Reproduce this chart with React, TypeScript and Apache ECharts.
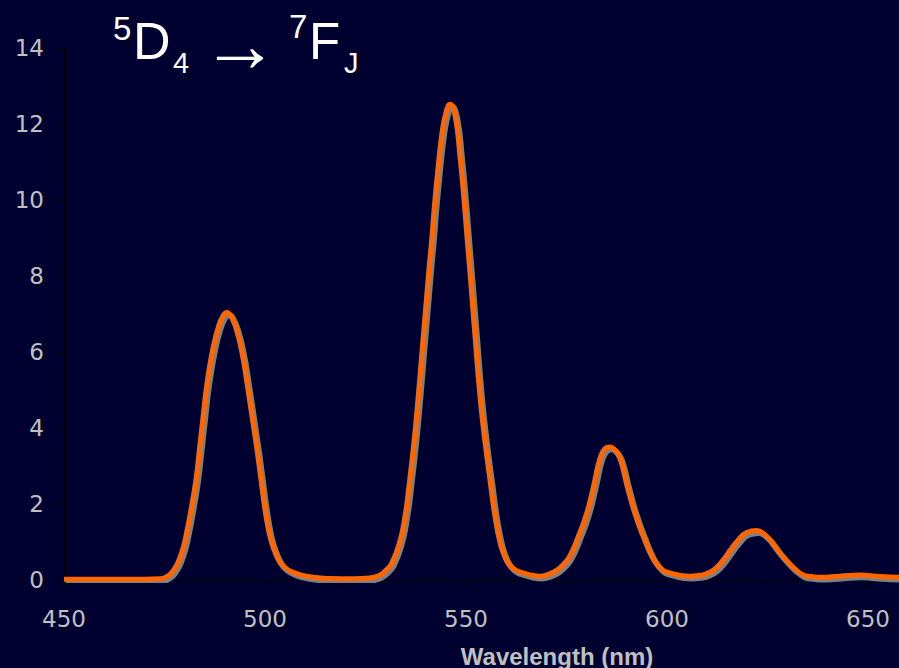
import React, { useEffect, useRef } from "react";
import * as echarts from "echarts";

// Wavelength (nm) sample positions
const wavelengths = [
  450, 460, 470, 474, 476, 477.5, 478.5, 479.7, 480.6, 481.5, 482.8, 483.7, 484.6, 485.6, 487.1, 488.5,
  489.6, 490.5, 491.5, 492.8, 494.2, 495.4, 496.7, 497.9, 498.9, 500, 501, 502, 503.5, 505, 507, 509,
  512, 516, 522, 526, 528.6, 530, 531.5, 533.4, 534.8, 535.9, 537.1, 538.1, 539.2, 540, 540.8, 541.5,
  542.1, 542.9, 544, 545, 546, 547.3, 548.5, 549.5, 550.3, 551.2, 552.1, 553.5, 554.7, 556, 557.2,
  558.5, 559.5, 560.5, 562, 564.3, 566.5, 568.4, 570.5, 572.6, 574.3, 575.9, 577.9, 580, 581.7, 583.3,
  584.5, 585.8, 587, 588.3, 590.1, 592, 594.1, 596.2, 597.7, 599.1, 600, 601.6, 603.5, 605.7, 608,
  609.9, 612, 614, 615.7, 617.3, 619.8, 622.3, 624.8, 626.3, 627.7, 630.6, 632.3, 633.9, 636, 638.1,
  643, 648, 653, 657.7,
];

// Emission intensity at those wavelengths
const intensity = [
  0.02, 0.02, 0.02, 0.03, 0.12, 0.3, 0.5, 0.87, 1.3, 1.8, 2.63, 3.45, 4.3, 5.2, 6.13, 6.7,
  6.96, 7.04, 6.95, 6.62, 6.02, 5.26, 4.35, 3.5, 2.72, 1.85, 1.25, 0.87, 0.5, 0.32, 0.2, 0.13,
  0.07, 0.04, 0.03, 0.05, 0.13, 0.25, 0.44, 0.96, 1.67, 2.55, 3.68, 4.82, 6.2, 7.2, 8.2, 9.0,
  9.8, 10.7, 11.75, 12.3, 12.52, 12.2, 11.14, 10.0, 8.95, 7.8, 6.6, 4.8, 3.65, 2.6, 1.67,
  0.96, 0.65, 0.44, 0.28, 0.18, 0.12, 0.1, 0.15, 0.26, 0.42, 0.65, 1.14, 1.75, 2.46, 3.2,
  3.45, 3.5, 3.42, 3.2, 2.46, 1.75, 1.14, 0.62, 0.38, 0.24, 0.21, 0.16, 0.12, 0.1, 0.12,
  0.17, 0.3, 0.53, 0.78, 1.0, 1.25, 1.3, 1.14, 0.95, 0.75, 0.4, 0.24, 0.13, 0.09, 0.07,
  0.1, 0.13, 0.09, 0.07,
];

const xMin = 450;
const xMax = 657.7;
const xStep = 25;
const xLabelStep = 50;
const yMin = 0;
const yMax = 14;
const yStep = 2;

const xAxisTitle = "Wavelength (nm)";

const LABEL = "#c0c0c0";
const BG = "#000030";

export default function App() {
  const ref = useRef<HTMLDivElement>(null);

  useEffect(() => {
    if (!ref.current) return;
    const chart = echarts.init(ref.current, undefined, { renderer: "svg" });
    const pts = wavelengths.map((w, i) => [w, intensity[i]]);

    const titleFont = "Liberation Sans, Arial, sans-serif";
    const t = (text: string, x: number, y: number, size: number) => ({
      type: "text",
      x,
      y,
      style: {
        text,
        fill: "#ffffff",
        font: `${size}px ${titleFont}`,
        verticalAlign: "middle",
        align: "left",
      },
    });

    chart.setOption({
      animation: false,
      backgroundColor: BG,
      grid: { left: 64, top: 48, bottom: 88, right: 0, containLabel: false },
      xAxis: [
        {
          type: "value",
          min: xMin,
          max: xMax,
          interval: xStep,
          axisLine: { show: true, lineStyle: { color: "#000000", width: 1 } },
          axisTick: { show: true, length: 8, inside: false, lineStyle: { color: "#000000" } },
          splitLine: { show: false },
          axisLabel: {
            color: LABEL,
            fontSize: 23,
            fontFamily: "DejaVu Sans",
            margin: 27,
            showMaxLabel: false,
            formatter: (v: number) => (v % xLabelStep === 0 ? String(v) : ""),
          },
        },
        {
          type: "value",
          min: xMin - 0.5,
          max: xMax - 0.5,
          show: false,
        },
      ],
      yAxis: [
        {
          type: "value",
          min: yMin,
          max: yMax,
          interval: yStep,
          axisLine: { show: true, lineStyle: { color: "#000000", width: 1 } },
          axisTick: { show: true, length: 8, inside: false, lineStyle: { color: "#000000" } },
          splitLine: { show: false },
          axisLabel: {
            color: LABEL,
            fontSize: 23,
            fontFamily: "DejaVu Sans",
            margin: 20,
          },
        },
        {
          type: "value",
          min: yMin + 0.06,
          max: yMax + 0.06,
          show: false,
        },
      ],
      series: [
        {
          type: "line",
          xAxisIndex: 1,
          yAxisIndex: 1,
          data: pts,
          showSymbol: false,
          smooth: 0.5,
          lineStyle: { color: "#808080", width: 6 },
          z: 2,
        },
        {
          type: "line",
          xAxisIndex: 0,
          yAxisIndex: 0,
          data: pts,
          showSymbol: false,
          smooth: 0.5,
          lineStyle: { color: "#ff6600", width: 5 },
          z: 3,
        },
      ],
      graphic: [
        t("5", 113, 28, 33),
        t("D", 133, 41, 52),
        t("4", 173, 63, 29),
        t("\u2192", 201, 44, 78),
        t("7", 289, 26, 33),
        t("F", 309, 41, 51),
        t("J", 344, 63, 29),
        {
          type: "text",
          x: 557,
          y: 656,
          style: {
            text: xAxisTitle,
            fill: LABEL,
            font: `bold 24px ${titleFont}`,
            align: "center",
            verticalAlign: "middle",
          },
        },
      ],
    });

    return () => chart.dispose();
  }, []);

  return (
    <div
      ref={ref}
      style={{ position: "fixed", left: 0, top: 0, width: 899, height: 668 }}
    />
  );
}
